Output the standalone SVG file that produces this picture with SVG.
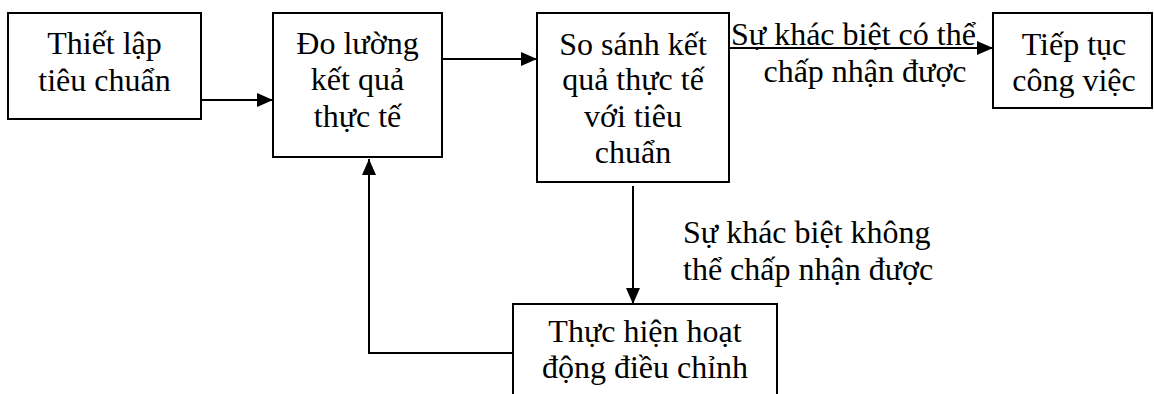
<svg xmlns="http://www.w3.org/2000/svg" width="1154" height="394" viewBox="0 0 1154 394">
<defs>
<marker id="ah" viewBox="0 0 16 14" refX="16" refY="7" markerWidth="16" markerHeight="14" markerUnits="userSpaceOnUse" orient="auto">
<path d="M0,0 L16,7 L0,14 Z" fill="#000"/>
</marker>
</defs>
<rect width="1154" height="394" fill="#fff"/>
<g id="connectors" fill="none" stroke="#000" stroke-width="2">
<line x1="201" y1="100" x2="273" y2="100" marker-end="url(#ah)"/>
<line x1="442" y1="59" x2="537" y2="59" marker-end="url(#ah)"/>
<line x1="729" y1="48" x2="993" y2="48" marker-end="url(#ah)"/>
<line x1="633" y1="186" x2="633" y2="304" marker-end="url(#ah)"/>
<polyline points="513,353 369,353 369,159" marker-end="url(#ah)"/>
</g>
<g id="labels">
<text x="731" y="45" style="font-family:'Times New Roman','Liberation Serif',Tinos,serif;font-size:32px">Sự khác biệt có thể</text>
<text x="865" y="82" text-anchor="middle" style="font-family:'Times New Roman','Liberation Serif',Tinos,serif;font-size:32px">chấp nhận được</text>
<text x="683" y="243" style="font-family:'Times New Roman','Liberation Serif',Tinos,serif;font-size:32px">Sự khác biệt không</text>
<text x="683" y="280" style="font-family:'Times New Roman','Liberation Serif',Tinos,serif;font-size:32px">thể chấp nhận được</text>
</g>
<g id="n1">
<rect x="8" y="13" width="193" height="106" fill="#fff" stroke="#000" stroke-width="2"/>
<text x="104.5" y="54" text-anchor="middle" style="font-family:'Times New Roman','Liberation Serif',Tinos,serif;font-size:32px">Thiết lập</text>
<text x="104.5" y="91" text-anchor="middle" style="font-family:'Times New Roman','Liberation Serif',Tinos,serif;font-size:32px">tiêu chuẩn</text>
</g>
<g id="n2">
<rect x="273" y="13" width="169" height="144" fill="#fff" stroke="#000" stroke-width="2"/>
<text x="357.5" y="54" text-anchor="middle" style="font-family:'Times New Roman','Liberation Serif',Tinos,serif;font-size:32px">Đo lường</text>
<text x="357.5" y="90" text-anchor="middle" style="font-family:'Times New Roman','Liberation Serif',Tinos,serif;font-size:32px">kết quả</text>
<text x="357.5" y="127" text-anchor="middle" style="font-family:'Times New Roman','Liberation Serif',Tinos,serif;font-size:32px">thực tế</text>
</g>
<g id="n3">
<rect x="537" y="13" width="192" height="169" fill="#fff" stroke="#000" stroke-width="2"/>
<text x="633" y="55" text-anchor="middle" style="font-family:'Times New Roman','Liberation Serif',Tinos,serif;font-size:32px">So sánh kết</text>
<text x="633" y="90" text-anchor="middle" style="font-family:'Times New Roman','Liberation Serif',Tinos,serif;font-size:32px">quả thực tế</text>
<text x="633" y="127" text-anchor="middle" style="font-family:'Times New Roman','Liberation Serif',Tinos,serif;font-size:32px">với tiêu</text>
<text x="633" y="163" text-anchor="middle" style="font-family:'Times New Roman','Liberation Serif',Tinos,serif;font-size:32px">chuẩn</text>
</g>
<g id="n4">
<rect x="993" y="13" width="159" height="95" fill="#fff" stroke="#000" stroke-width="2"/>
<text x="1074" y="55" text-anchor="middle" style="font-family:'Times New Roman','Liberation Serif',Tinos,serif;font-size:32px">Tiếp tục</text>
<text x="1074" y="91" text-anchor="middle" style="font-family:'Times New Roman','Liberation Serif',Tinos,serif;font-size:32px">công việc</text>
</g>
<g id="n5">
<rect x="513" y="304" width="264" height="100" fill="#fff" stroke="#000" stroke-width="2"/>
<text x="645" y="342" text-anchor="middle" style="font-family:'Times New Roman','Liberation Serif',Tinos,serif;font-size:32px">Thực hiện hoạt</text>
<text x="645" y="378" text-anchor="middle" style="font-family:'Times New Roman','Liberation Serif',Tinos,serif;font-size:32px">động điều chỉnh</text>
</g>
</svg>
